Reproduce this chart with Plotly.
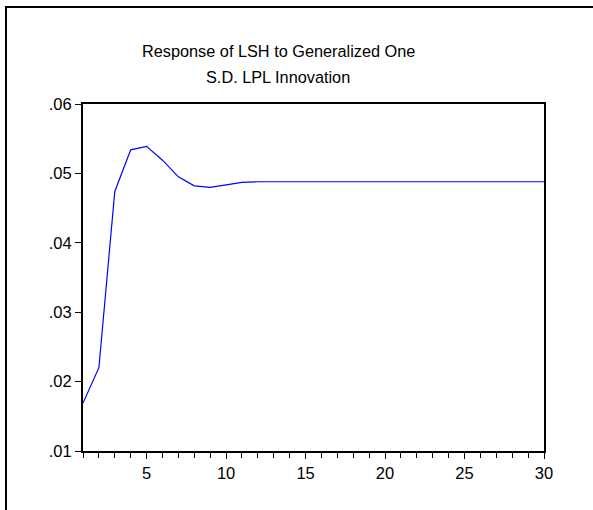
import plotly.graph_objects as go

periods = list(range(1, 31))
response = [0.0169, 0.0220, 0.0474, 0.0534, 0.0539, 0.0519, 0.0495, 0.0482, 0.0480, 0.0484,
            0.0487, 0.0488, 0.04885, 0.0488, 0.0488, 0.0488, 0.0488, 0.0488, 0.0488, 0.0488,
            0.0488, 0.0488, 0.0488, 0.0488, 0.0488, 0.0488, 0.0488, 0.0488, 0.0488, 0.0488]
y_ticks = [0.01, 0.02, 0.03, 0.04, 0.05, 0.06]
y_tick_labels = [".01", ".02", ".03", ".04", ".05", ".06"]
x_ticks = [5, 10, 15, 20, 25, 30]
title_lines = ["Response of LSH to Generalized One", "S.D. LPL Innovation"]

W, H = 593, 510
L, R, T, B = 83, 544, 104, 451
pw, ph = R - L, B - T

fig = go.Figure()
fig.add_trace(go.Scatter(x=periods, y=response, mode="lines",
                         line=dict(color="#0000ff", width=1.2), showlegend=False,
                         hoverinfo="skip"))

font = dict(family="Liberation Sans, Arial, sans-serif", size=16.5, color="black")

fig.update_layout(
    width=W, height=H,
    margin=dict(l=L, r=W - R, t=T, b=H - B, pad=0),
    paper_bgcolor="white", plot_bgcolor="white",
    font=font,
    xaxis=dict(range=[1, 30], tickmode="array", tickvals=x_ticks,
               ticks="outside", ticklen=6, tickwidth=1, tickcolor="black",
               minor=dict(tickmode="array", tickvals=periods, ticks="outside",
                          ticklen=5, tickwidth=1, tickcolor="black", showgrid=False),
               showgrid=False, zeroline=False, showline=True, linecolor="black",
               linewidth=2, mirror=True, tickfont=font),
    yaxis=dict(range=[0.01, 0.06], tickmode="array", tickvals=y_ticks,
               ticktext=y_tick_labels, ticks="outside", ticklen=6, tickwidth=1,
               tickcolor="black", showgrid=False, zeroline=False, showline=True,
               linecolor="black", linewidth=2, mirror=True, tickfont=font),
)

# two-line title centred near x=278 px
tx = (278 - L) / pw
for i, (txt, ypx) in enumerate(zip(title_lines, [51, 77])):
    fig.add_annotation(text=txt, xref="paper", yref="paper",
                       x=tx, y=(B - ypx) / ph, xanchor="center", yanchor="middle",
                       showarrow=False, font=dict(family=font["family"], size=16.3, color="black"))

# outer frame
fig.add_shape(type="rect", xref="paper", yref="paper",
              x0=(6 - L) / pw, x1=(600 - L) / pw,
              y0=(B - 520) / ph, y1=(B - 7) / ph,
              line=dict(color="black", width=2), fillcolor="rgba(0,0,0,0)", layer="above")

fig.write_html("out.html", config={"displayModeBar": False},
               post_script="document.body.style.margin='0';")
